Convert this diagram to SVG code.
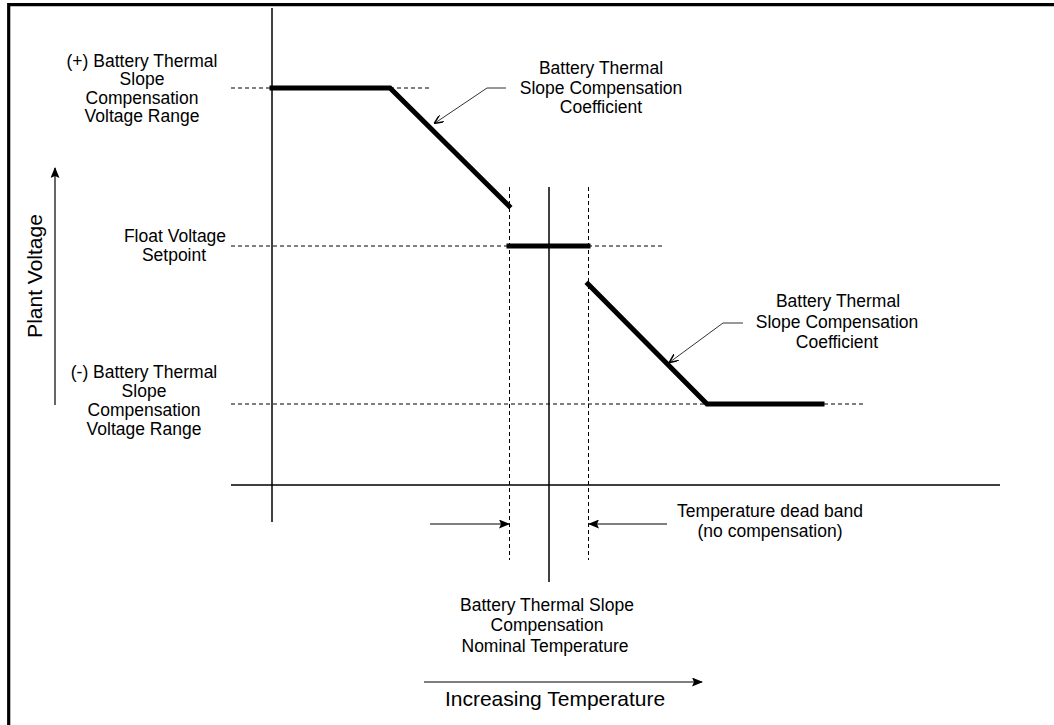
<svg xmlns="http://www.w3.org/2000/svg" width="1054" height="725" viewBox="0 0 1054 725">
<style>
text{font-family:"Liberation Sans",Arial,sans-serif;fill:#000;text-anchor:middle}
.lbl{font-size:17.5px}
.big{font-size:21px}
.axis{stroke:#000;stroke-width:1.5;fill:none}
.dash{stroke:#000;stroke-width:1;stroke-dasharray:4 3;fill:none}
.thick{stroke:#000;stroke-width:5;fill:none;stroke-linecap:square}
.thin{stroke:#000;stroke-width:1.2;fill:none}
.lead{stroke:#333;stroke-width:1;fill:none}
</style>
<defs>
<marker id="ah" markerWidth="11" markerHeight="9" refX="10" refY="4.5" orient="auto" markerUnits="userSpaceOnUse">
<path d="M0,0 L11,4.5 L0,9 L2,4.5 Z" fill="#000"/>
</marker>
<marker id="ahs" markerWidth="9" markerHeight="8" refX="8" refY="4" orient="auto" markerUnits="userSpaceOnUse">
<path d="M0,0 L9,4 L0,8" fill="none" stroke="#000" stroke-width="1.5"/>
</marker>
</defs>
<rect width="1054" height="725" fill="#fff"/>
<g id="frame">
<path d="M8.7,730 L8.7,4.7 L1060,4.7" stroke="#000" stroke-width="3.2" fill="none"/>
</g>
<g id="axes">
<line class="axis" x1="272" y1="8" x2="272" y2="522"/>
<line class="axis" x1="231" y1="485" x2="1000" y2="485"/>
<line class="axis" x1="549" y1="187" x2="549" y2="582"/>
</g>
<g id="guides">
<line class="dash" x1="231" y1="88" x2="272" y2="88"/>
<line class="dash" x1="390" y1="88" x2="432" y2="88"/>
<line class="dash" x1="231" y1="246" x2="665" y2="246"/>
<line class="dash" x1="231" y1="404" x2="707" y2="404"/>
<line class="dash" x1="824" y1="404" x2="865" y2="404"/>
<line class="dash" x1="509.5" y1="187" x2="509.5" y2="560"/>
<line class="dash" x1="588.5" y1="187" x2="588.5" y2="560"/>
</g>
<g id="curve">
<polyline class="thick" points="272,88 390,88 509,206"/>
<line class="thick" x1="509" y1="246" x2="588" y2="246"/>
<polyline class="thick" points="588,284 707,404 822,404"/>
</g>
<g id="connectors">
<polyline class="lead" points="506,88 487,88 435,123" marker-end="url(#ahs)"/>
<polyline class="lead" points="743,323 723,323 670,362" marker-end="url(#ahs)"/>
<line class="thin" x1="430" y1="524" x2="509" y2="524" marker-end="url(#ah)"/>
<line class="thin" x1="667" y1="524" x2="589" y2="524" marker-end="url(#ah)"/>
<line class="thin" x1="424" y1="682" x2="702" y2="682" marker-end="url(#ah)"/>
<line class="thin" x1="55" y1="405" x2="55" y2="168" marker-end="url(#ah)"/>
</g>
<g id="label-plus">
<text class="lbl" x="142" y="66.5">(+) Battery Thermal</text>
<text class="lbl" x="142" y="85">Slope</text>
<text class="lbl" x="142" y="103.5">Compensation</text>
<text class="lbl" x="142" y="122">Voltage Range</text>
</g>
<g id="label-float">
<text class="lbl" x="175" y="242">Float Voltage</text>
<text class="lbl" x="174" y="261">Setpoint</text>
</g>
<g id="label-minus">
<text class="lbl" x="144" y="378">(-) Battery Thermal</text>
<text class="lbl" x="144" y="397">Slope</text>
<text class="lbl" x="144" y="416">Compensation</text>
<text class="lbl" x="144" y="435">Voltage Range</text>
</g>
<g id="label-coef1">
<text class="lbl" x="601" y="74">Battery Thermal</text>
<text class="lbl" x="601" y="93.5">Slope Compensation</text>
<text class="lbl" x="601" y="113">Coefficient</text>
</g>
<g id="label-coef2">
<text class="lbl" x="838" y="307">Battery Thermal</text>
<text class="lbl" x="837" y="328">Slope Compensation</text>
<text class="lbl" x="837" y="348">Coefficient</text>
</g>
<g id="label-deadband">
<text class="lbl" x="770" y="517">Temperature dead band</text>
<text class="lbl" x="770" y="537">(no compensation)</text>
</g>
<g id="label-nominal">
<text class="lbl" x="547" y="611">Battery Thermal Slope</text>
<text class="lbl" x="547" y="631">Compensation</text>
<text class="lbl" x="545" y="651.5">Nominal Temperature</text>
</g>
<g id="label-xaxis">
<text class="big" x="555" y="706">Increasing Temperature</text>
</g>
<g id="label-yaxis">
<text class="big" x="0" y="0" transform="translate(42,276) rotate(-90)">Plant Voltage</text>
</g>
</svg>
